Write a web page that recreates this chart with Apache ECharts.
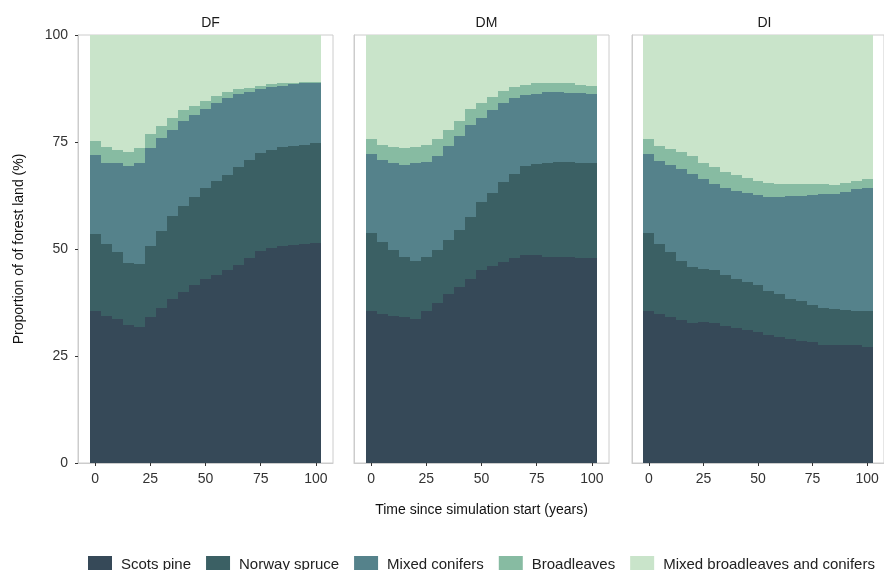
<!DOCTYPE html>
<html>
<head>
<meta charset="utf-8">
<script src="https://cdn.jsdelivr.net/npm/echarts@6/dist/echarts.min.js"></script>
<style>
html,body{margin:0;padding:0;background:#fff;}
#chart{width:884px;height:570px;}
</style>
</head>
<body>
<div id="chart"></div>
<script>
// ---- data ----
const years = [0,5,10,15,20,25,30,35,40,45,50,55,60,65,70,75,80,85,90,95,100];
const categories = ['Scots pine','Norway spruce','Mixed conifers','Broadleaves','Mixed broadleaves and conifers'];
const panels = ['DF','DM','DI'];
const xTicks = [0,25,50,75,100];
const yTicks = [0,25,50,75,100];

// DF
const df_scotsPine   = [35.6,34.4,33.6,32.3,31.7,34.2,36.1,38.4,40.0,41.5,42.9,44.0,45.0,46.3,48.0,49.6,50.2,50.7,51.0,51.2,51.4];
const df_norwaySpruce= [17.9,16.8,15.8,14.5,14.8,16.5,18.2,19.2,20.1,20.6,21.4,22.0,22.4,22.8,22.7,22.8,23.0,23.1,23.1,23.2,23.3];
const df_mixedConif  = [18.4,19.0,20.6,22.6,23.6,22.8,21.7,20.3,19.8,19.2,18.4,18.1,17.8,17.1,16.0,14.9,14.6,14.4,14.4,14.3,14.1];
const df_broadleaves = [3.3,3.6,3.2,3.3,3.4,3.3,2.7,2.8,2.5,2.2,1.9,1.6,1.5,1.2,1.0,0.9,0.7,0.5,0.4,0.3,0.3];
const df_mixedBroadConif = [24.8,26.2,26.8,27.3,26.5,23.2,21.3,19.3,17.6,16.5,15.4,14.3,13.3,12.6,12.3,11.8,11.5,11.3,11.1,11.0,10.9];

// DM
const dm_scotsPine   = [35.6,34.8,34.4,34.0,33.6,35.4,37.4,39.5,41.1,42.9,45.0,46.0,46.9,48.0,48.7,48.5,48.2,48.1,48.1,47.9,47.8];
const dm_norwaySpruce= [18.2,16.8,15.4,14.1,13.5,12.7,12.4,12.5,13.4,14.6,16.0,17.1,18.7,19.6,20.6,21.3,21.8,22.2,22.2,22.2,22.2];
const dm_mixedConif  = [18.3,19.1,20.2,21.5,22.9,22.3,22.0,22.0,21.8,21.4,19.7,19.3,18.5,17.6,16.6,16.5,16.7,16.4,16.2,16.3,16.3];
const dm_broadleaves = [3.7,3.5,3.8,3.9,3.8,3.8,3.8,3.8,3.6,3.7,3.4,3.0,2.7,2.7,2.4,2.4,2.2,2.2,2.2,2.0,1.9];
const dm_mixedBroadConif = [24.2,25.8,26.2,26.5,26.2,25.8,24.4,22.2,20.1,17.4,15.9,14.6,13.2,12.1,11.7,11.3,11.1,11.1,11.3,11.6,11.8];

// DI
const di_scotsPine   = [35.6,34.8,34.0,33.3,32.7,32.9,32.6,32.1,31.5,31.1,30.7,30.0,29.5,29.0,28.6,28.2,27.6,27.5,27.5,27.5,27.2];
const di_norwaySpruce= [18.2,16.4,15.3,13.8,13.0,12.4,12.4,11.9,11.5,11.3,10.8,10.3,10.0,9.3,9.2,8.8,8.6,8.5,8.3,8.1,8.3];
const di_mixedConif  = [18.3,19.3,20.3,21.6,21.9,21.0,20.3,20.3,20.5,20.7,21.1,21.8,22.6,24.0,24.7,25.6,26.6,26.9,27.6,28.5,28.8];
const di_broadleaves = [3.7,3.6,3.7,3.9,4.1,3.9,3.9,3.6,3.9,3.6,3.3,3.3,3.0,2.8,2.6,2.5,2.3,2.0,2.0,1.8,2.0];
const di_mixedBroadConif = [24.2,25.9,26.7,27.4,28.3,29.8,30.8,32.1,32.6,33.3,34.1,34.6,34.9,34.9,34.9,34.9,34.9,35.1,34.6,34.1,33.7];

const panelData = [
  [df_scotsPine, df_norwaySpruce, df_mixedConif, df_broadleaves, df_mixedBroadConif],
  [dm_scotsPine, dm_norwaySpruce, dm_mixedConif, dm_broadleaves, dm_mixedBroadConif],
  [di_scotsPine, di_norwaySpruce, di_mixedConif, di_broadleaves, di_mixedBroadConif]
];

// ---- styling ----
const colors = ['#364958','#3b6064','#55828b','#87bba2','#c9e4ca'];
const FONT = 'Liberation Sans, Arial, sans-serif';
const binWidth = 5;
const gridLefts = [78, 354, 632];
const gridWidth = 255;
const gridTop = 35, gridHeight = 428;

// stacked items: [year, value, base]
function stackedItems(k, j){
  return years.map((t, i) => {
    let base = 0;
    for (let m = 0; m < j; m++) base += panelData[k][m][i];
    return [t, panelData[k][j][i], base];
  });
}

function makeRender(color){
  return function(params, api){
    const t = api.value(0), v = api.value(1), b = api.value(2);
    const h = binWidth / 2;
    const p0 = api.coord([t - h, b]);
    const p1 = api.coord([t + h, b + v]);
    const x0 = Math.round(p0[0]), x1 = Math.round(p1[0]);
    const yb = Math.round(p0[1]), yt = Math.round(p1[1]);
    return {type: 'rect', shape: {x: x0, y: yt, width: x1 - x0, height: yb - yt},
      style: {fill: color}};
  };
}

const grids = [], xAxes = [], yAxes = [], series = [], titles = [];
panels.forEach((p, k) => {
  grids.push({left: gridLefts[k], top: gridTop, width: gridWidth, height: gridHeight,
    show: true, borderColor: '#cccccc', borderWidth: 1, backgroundColor: '#fff',
    containLabel: false});
  xAxes.push({
    type: 'value', gridIndex: k, min: -7.75, max: 107.75,
    axisLine: {show: true, onZero: false, lineStyle: {color: '#cccccc', width: 1}},
    splitLine: {show: false},
    axisTick: {show: true, length: 3, customValues: xTicks, lineStyle: {color: '#333', width: 1}},
    axisLabel: {show: true, customValues: xTicks, margin: 9, color: '#333', fontSize: 14, fontFamily: FONT},
    name: k === 1 ? 'Time since simulation start (years)' : '',
    nameLocation: 'middle', nameGap: 40,
    nameTextStyle: {color: '#111', fontSize: 14, fontFamily: FONT}
  });
  yAxes.push({
    type: 'value', gridIndex: k, min: 0, max: 100, interval: 25,
    axisLine: {show: true, onZero: false, lineStyle: {color: '#cccccc', width: 1}},
    splitLine: {show: false},
    axisTick: {show: k === 0, length: 3, lineStyle: {color: '#333', width: 1}},
    axisLabel: {show: k === 0, margin: 10, color: '#333', fontSize: 14, fontFamily: FONT,
      formatter: v => yTicks.includes(v) ? String(v) : ''},
    name: k === 0 ? 'Proportion of of forest land (%)' : '',
    nameLocation: 'middle', nameGap: 52,
    nameTextStyle: {color: '#111', fontSize: 14, fontFamily: FONT}
  });
  titles.push({text: p, left: gridLefts[k] + gridWidth/2, top: 11, textAlign: 'center',
    textStyle: {fontSize: 14, fontWeight: 'normal', color: '#1a1a1a', fontFamily: FONT}});
  categories.forEach((c, j) => {
    series.push({
      name: c, type: 'custom', xAxisIndex: k, yAxisIndex: k,
      renderItem: makeRender(colors[j]),
      itemStyle: {color: colors[j]},
      encode: {x: 0, y: [1, 2]},
      data: stackedItems(k, j),
      silent: true, z: 2, clip: true
    });
  });
});

const chart = echarts.init(document.getElementById('chart'), null, {renderer: 'canvas'});
chart.setOption({
  animation: false,
  backgroundColor: '#fff',
  title: titles,
  grid: grids,
  xAxis: xAxes,
  yAxis: yAxes,
  legend: {
    data: categories.map(c => ({name: c, icon: 'rect'})),
    left: 88, top: 556, orient: 'horizontal', padding: 0, width: 796,
    itemWidth: 24, itemHeight: 18, itemGap: 15,
    textStyle: {fontSize: 15, color: '#222', fontFamily: FONT, padding: [0,0,0,4]},
    selectedMode: false
  },
  series: series
});
</script>
</body>
</html>
